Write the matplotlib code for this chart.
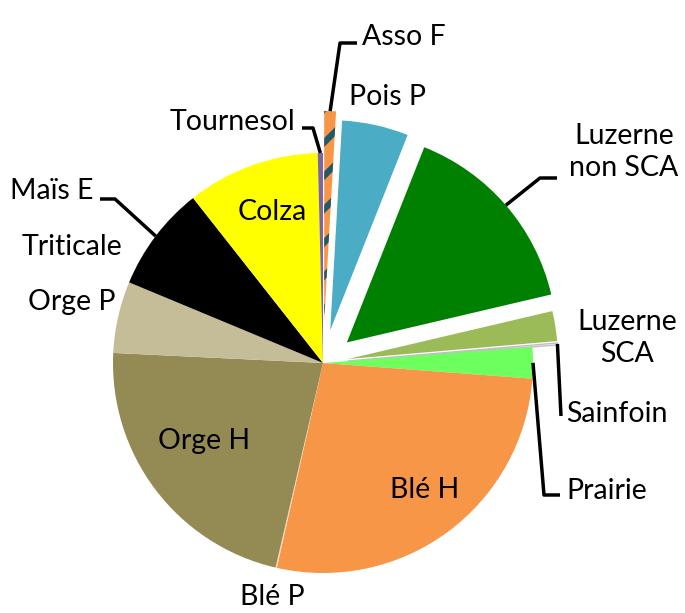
import numpy as np
import matplotlib
matplotlib.use("Agg")
import matplotlib.pyplot as plt

# crop shares (%), clockwise from 12 o'clock
crops = ['Asso F', 'Pois P', 'Luzerne\nnon SCA', 'Luzerne\nSCA', 'Sainfoin', 'Prairie',
         'Blé H', 'Blé P', 'Orge H', 'Orge P', 'Triticale', 'Maïs E', 'Colza', 'Tournesol']
shares = [0.9, 5.1, 15.3, 2.3, 0.15, 2.4, 27.3, 0.1, 22.1, 5.5, 0.0, 8.1, 10.2, 0.4]
colors = ['#F79646', '#4BACC6', '#008000', '#9BBB59', '#FFFFFF', '#6CFF5E',
          '#F79646', '#FAD7B8', '#948A54', '#C4BD97', '#FFFFFF', '#000000', '#FFFF00', '#8064A2']
explode = [0.2, 0.16, 0.15, 0.12, 0.12, 0, 0, 0, 0, 0, 0, 0, 0, 0]

W, H = 685, 613
R = 210
plt.rcParams['font.family'] = ['Lato', 'DejaVu Sans']
plt.rcParams['hatch.linewidth'] = 4.5


def px(x, y):
    # picture pixel coords -> data coords
    return x, H - y


fig = plt.figure(figsize=(W / 100, H / 100), dpi=100)
ax = fig.add_axes([0, 0, 1, 1])
# matplotlib's explode is in data units, so scale the fractions by the radius
wedges, _ = ax.pie(shares, colors=colors, explode=[e * R for e in explode],
                   startangle=90, counterclock=False, center=px(323, 363),
                   radius=R, wedgeprops=dict(linewidth=0))
ax.set_xlim(0, W)
ax.set_ylim(0, H)
ax.set_aspect('equal')
ax.axis('off')

# striped "Asso F" slice
wedges[0].set_hatch('/')
wedges[0].set_edgecolor('#215968')
wedges[0].set_linewidth(0)
# Sainfoin: white slice with a light outline
wedges[4].set_edgecolor('#BFBFBF')
wedges[4].set_linewidth(1.0)


def outer_mid(w):
    t = np.deg2rad((w.theta1 + w.theta2) / 2)
    cx, cy = w.center
    return cx + w.r * np.cos(t), cy + w.r * np.sin(t)


FS = 20.5
# labels: (text position, ha, elbow points of the leader or None)
labels = {
    'Asso F': ((362, 37), 'left', [(340, 43), (357, 43)]),
    'Pois P': ((349, 97), 'left', None),
    'Luzerne\nnon SCA': ((624, 152), 'center', [(540, 178), (557, 178)]),
    'Luzerne\nSCA': ((627, 338), 'center', None),
    'Sainfoin': ((566, 414), 'left', [(561, 416)]),
    'Prairie': ((566, 491), 'left', [(544, 495), (560, 495)]),
    'Blé H': ((390, 490), 'left', None),
    'Blé P': ((240, 597), 'left', None),
    'Orge H': ((158, 441), 'left', None),
    'Orge P': ((28, 302), 'left', None),
    'Triticale': ((22, 247), 'left', None),
    'Maïs E': ((10, 191), 'left', [(115, 199), (100, 199)]),
    'Colza': ((238, 212), 'left', None),
    'Tournesol': ((170, 122), 'left', [(313, 128), (302, 128)]),
}

for name, w in zip(crops, wedges):
    (tx, ty), ha, elbow = labels[name]
    ax.text(*px(tx, ty), name, ha=ha, va='center', fontsize=FS,
            color='black', linespacing=1.25)
    if elbow:
        sx, sy = outer_mid(w)
        xs = [sx] + [p[0] for p in elbow]
        ys = [sy] + [H - p[1] for p in elbow]
        ax.plot(xs, ys, color='black', linewidth=2.5, solid_capstyle='butt')

fig.savefig('out.png', dpi=100)
